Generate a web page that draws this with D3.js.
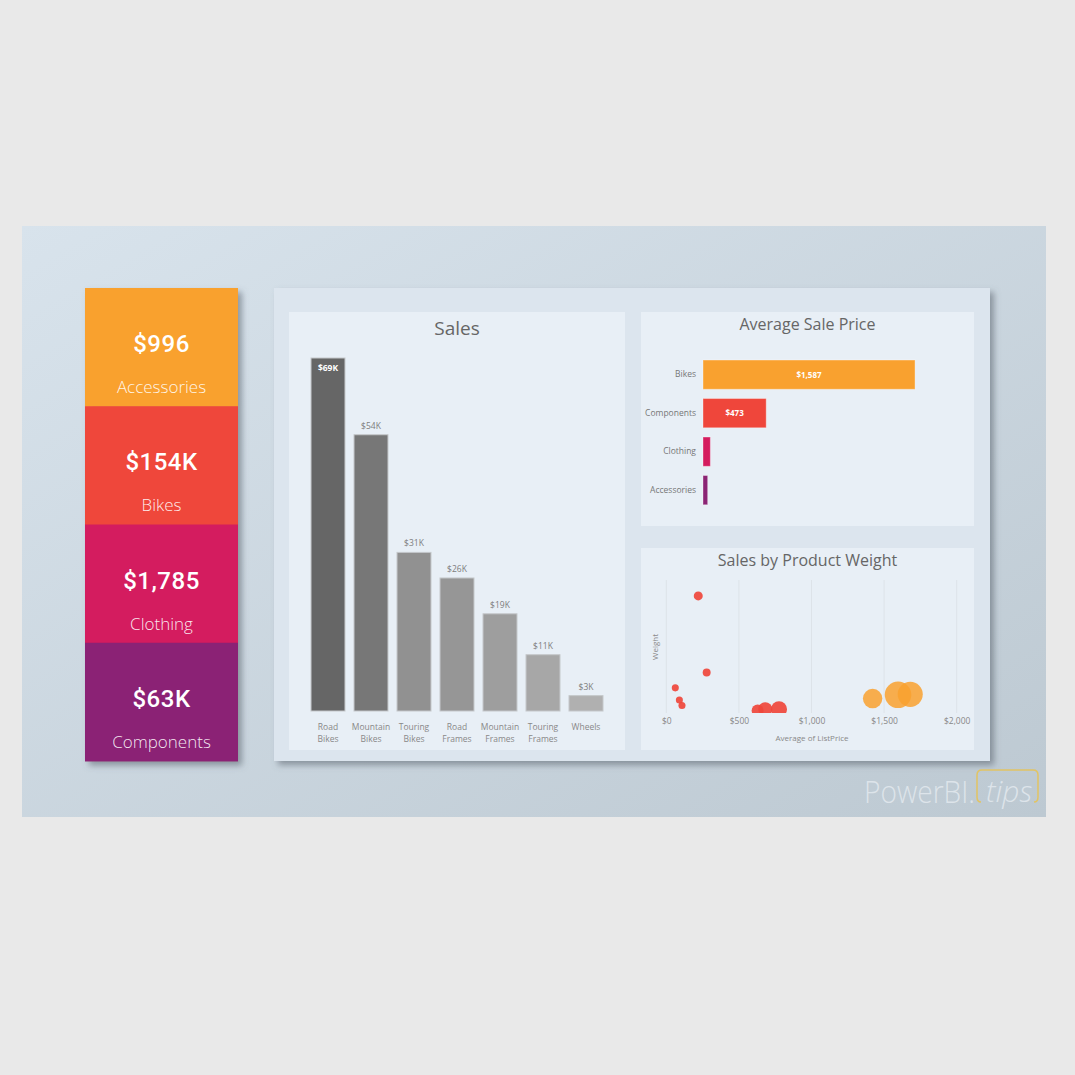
<!DOCTYPE html>
<html>
<head>
<meta charset="utf-8">
<script src="https://cdn.jsdelivr.net/npm/d3@7"></script>
<style>
  html, body { margin: 0; padding: 0; background: #e9e9e9; }
  svg { display: block; }
  text { font-family: "Open Sans", "Noto Sans", sans-serif; }
</style>
</head>
<body>
<div id="chart"></div>
<script>
// KPI cards
var kpiValues = ["$996", "$154K", "$1,785", "$63K"];
var kpiLabels = ["Accessories", "Bikes", "Clothing", "Components"];

// Sales by subcategory
var salesCategories = ["Road Bikes", "Mountain Bikes", "Touring Bikes", "Road Frames", "Mountain Frames", "Touring Frames", "Wheels"];
var salesValues = [69000, 54000, 31000, 26000, 19000, 11000, 3000];

// Average sale price
var priceCategories = ["Bikes", "Components", "Clothing", "Accessories"];
var priceValues = [1587, 473, 55, 35];

// Sales by product weight (scatter)
var weightPrice = [220, 278, 62, 90, 108, 629, 682, 776, 1421, 1596, 1680];
var weightValues = [25.0, 8.5, 5.2, 2.6, 1.4, 0.3, 0.6, 0.6, 2.9, 3.7, 3.8];
var weightSales = [3.1, 2.4, 1.9, 1.9, 1.9, 5.5, 7.5, 9.8, 14.4, 27, 24];
var weightCategory = ["Components", "Components", "Components", "Components", "Components", "Components", "Components", "Components", "Bikes", "Bikes", "Bikes"];
var priceTicks = [0, 500, 1000, 1500, 2000];

var width = 1075
var height = 1075

var svg = d3.select("#chart")
  .append("svg")
    .attr("width", width)
    .attr("height", height)

var defs = svg.append("defs")

// slide background gradient
var grad = defs.append("linearGradient")
    .attr("id", "slideBg")
    .attr("x1", "0%").attr("y1", "0%")
    .attr("x2", "100%").attr("y2", "100%")
grad.append("stop").attr("offset", "0%").attr("stop-color", "#d8e3ec")
grad.append("stop").attr("offset", "100%").attr("stop-color", "#bdc9d2")

// drop shadow
var shadow = defs.append("filter")
    .attr("id", "shadow")
    .attr("x", "-10%").attr("y", "-10%")
    .attr("width", "125%").attr("height", "125%")
shadow.append("feDropShadow")
    .attr("dx", 4).attr("dy", 4)
    .attr("stdDeviation", 3)
    .attr("flood-color", "#55606a")
    .attr("flood-opacity", 0.55)

var catColor = d3.scaleOrdinal()
    .domain(["Accessories", "Bikes", "Clothing", "Components"])
    .range(["#f9a12f", "#ef463b", "#d41c5e", "#8b2474"])

// priced bars use a different ordering of the palette
var priceColor = d3.scaleOrdinal()
    .domain(priceCategories)
    .range(["#f9a12f", "#ef463b", "#d41c5e", "#8b2474"])

// slide
svg.append("rect")
    .attr("x", 22).attr("y", 226)
    .attr("width", 1024).attr("height", 591)
    .attr("fill", "url(#slideBg)")

// ---------- KPI cards ----------
var cardY = d3.scaleBand()
    .domain(kpiLabels)
    .range([288, 761])

var cards = svg.append("g").attr("filter", "url(#shadow)")
cards.selectAll("rect")
  .data(kpiLabels)
  .enter()
  .append("rect")
    .attr("x", 85)
    .attr("y", function(d){ return cardY(d) })
    .attr("width", 153)
    .attr("height", cardY.bandwidth() + 0.5)
    .attr("fill", function(d){ return catColor(d) })

var cardText = svg.append("g")
cardText.selectAll(".kpi-value")
  .data(kpiLabels)
  .enter()
  .append("text")
    .attr("class", "kpi-value")
    .attr("x", 161.5)
    .attr("y", function(d){ return cardY(d) + 64 })
    .attr("text-anchor", "middle")
    .attr("fill", "#fff")
    .style("font-family", "Roboto, sans-serif")
    .style("font-weight", 500)
    .style("font-size", "24px")
    .style("letter-spacing", "0.5px")
    .text(function(d, i){ return kpiValues[i] })

cardText.selectAll(".kpi-label")
  .data(kpiLabels)
  .enter()
  .append("text")
    .attr("class", "kpi-label")
    .attr("x", 161.5)
    .attr("y", function(d){ return cardY(d) + 105 })
    .attr("text-anchor", "middle")
    .attr("fill", "#fff")
    .attr("fill-opacity", 0.9)
    .style("font-weight", 300)
    .style("font-size", "17px")
    .text(function(d){ return d })

// ---------- main panel ----------
svg.append("rect")
    .attr("x", 274).attr("y", 288)
    .attr("width", 716).attr("height", 473)
    .attr("fill", "#dce5ee")
    .attr("filter", "url(#shadow)")

function panel(x, y, w, h, title, size, ty) {
  svg.append("rect")
      .attr("x", x).attr("y", y)
      .attr("width", w).attr("height", h)
      .attr("fill", "#e8eff6")
  svg.append("text")
      .attr("x", x + w / 2)
      .attr("y", ty)
      .attr("text-anchor", "middle")
      .attr("fill", "#666")
      .style("font-size", size + "px")
      .text(title)
}

panel(289, 312, 336, 438, "Sales", 19, 335)
panel(641, 312, 333, 214, "Average Sale Price", 16, 330)
panel(641, 548, 333, 202, "Sales by Product Weight", 16, 566)

// ---------- Sales column chart ----------
var x = d3.scaleBand()
    .domain(salesCategories)
    .range([306.5, 607.5])
    .paddingInner(0.21)
    .paddingOuter(0.105)

var y = d3.scaleLinear()
    .domain([0, 69000])
    .range([711, 358])

var grey = d3.scaleLinear()
    .domain([3000, 69000])
    .range(["#b0b0b0", "#666666"])

var sales = svg.append("g")
sales.selectAll("rect")
  .data(salesCategories)
  .enter()
  .append("rect")
    .attr("x", function(d){ return x(d) })
    .attr("y", function(d, i){ return y(salesValues[i]) })
    .attr("width", x.bandwidth())
    .attr("height", function(d, i){ return y(0) - y(salesValues[i]) })
    .attr("fill", function(d, i){ return grey(salesValues[i]) })
    .attr("stroke", "#c4c7ca")
    .attr("stroke-width", 1)

sales.selectAll(".lbl")
  .data(salesCategories)
  .enter()
  .append("text")
    .attr("class", "lbl")
    .attr("x", function(d){ return x(d) + x.bandwidth() / 2 })
    .attr("y", function(d, i){ return i == 0 ? y(salesValues[i]) + 13 : y(salesValues[i]) - 6 })
    .attr("text-anchor", "middle")
    .attr("fill", function(d, i){ return i == 0 ? "#fff" : "#7d7d7d" })
    .style("font-size", "8.5px")
    .style("font-weight", function(d, i){ return i == 0 ? 700 : 400 })
    .text(function(d, i){ return "$" + Math.round(salesValues[i] / 1000) + "K" })

// x axis labels on two lines
var xLab = sales.selectAll(".xlab")
  .data(salesCategories)
  .enter()
  .append("text")
    .attr("class", "xlab")
    .attr("text-anchor", "middle")
    .attr("fill", "#888")
    .style("font-size", "8.5px")
xLab.selectAll("tspan")
  .data(function(d){ return d.split(" ").map(function(w){ return {w: w, c: d} }) })
  .enter()
  .append("tspan")
    .attr("x", function(t){ return x(t.c) + x.bandwidth() / 2 })
    .attr("y", function(t, j){ return 730 + j * 12 })
    .text(function(t){ return t.w })

// ---------- Average Sale Price bars ----------
var px = d3.scaleLinear()
    .domain([0, 1800])
    .range([703, 943.5])

var py = d3.scaleBand()
    .domain(priceCategories)
    .range([355.4, 509.4])
    .paddingInner(0.24)
    .paddingOuter(0.12)

var price = svg.append("g")
price.selectAll("rect")
  .data(priceCategories)
  .enter()
  .append("rect")
    .attr("x", px(0))
    .attr("y", function(d){ return py(d) })
    .attr("width", function(d, i){ return px(priceValues[i]) - px(0) })
    .attr("height", py.bandwidth())
    .attr("fill", function(d, i){ return priceColor(d) })
    .attr("stroke", "#ffffff")
    .attr("stroke-opacity", 0.35)
    .attr("stroke-width", 1)

var pyAxis = price.append("g")
    .attr("transform", "translate(" + (px(0) - 3) + ",0)")
    .call(d3.axisLeft(py).tickSize(0).tickPadding(4))
pyAxis.select(".domain").remove()
pyAxis.selectAll("text")
    .attr("fill", "#777")
    .style("font-family", "'Open Sans', sans-serif")
    .style("font-size", "8.5px")

price.selectAll(".val")
  .data(priceCategories.filter(function(d, i){ return priceValues[i] > 200 }))
  .enter()
  .append("text")
    .attr("class", "val")
    .attr("x", function(d){ return (px(0) + px(priceValues[priceCategories.indexOf(d)])) / 2 })
    .attr("y", function(d){ return py(d) + py.bandwidth() / 2 + 3 })
    .attr("text-anchor", "middle")
    .attr("fill", "#fff")
    .style("font-size", "8px")
    .style("font-weight", 700)
    .text(function(d){ return "$" + d3.format(",")(priceValues[priceCategories.indexOf(d)]) })

// ---------- Sales by Product Weight scatter ----------
var sx = d3.scaleLinear()
    .domain([0, 2000])
    .range([666.3, 956.7])

var sy = d3.scaleLinear()
    .domain([0, 28])
    .range([712, 582])

var sr = d3.scaleSqrt()
    .domain([0, 30])
    .range([0, 14])

defs.append("clipPath")
    .attr("id", "plotClip")
  .append("rect")
    .attr("x", 645).attr("y", 575)
    .attr("width", 325).attr("height", 138)

var scatter = svg.append("g")

scatter.selectAll(".grid")
  .data(priceTicks)
  .enter()
  .append("line")
    .attr("class", "grid")
    .attr("x1", function(d){ return sx(d) })
    .attr("x2", function(d){ return sx(d) })
    .attr("y1", 580)
    .attr("y2", 713)
    .attr("stroke", "#dde3e9")
    .attr("stroke-width", 1)

scatter.append("g")
    .attr("clip-path", "url(#plotClip)")
  .selectAll("circle")
  .data(weightPrice)
  .enter()
  .append("circle")
    .attr("cx", function(d){ return sx(d) })
    .attr("cy", function(d, i){ return sy(weightValues[i]) })
    .attr("r", function(d, i){ return sr(weightSales[i]) })
    .attr("fill", function(d, i){ return weightCategory[i] == "Bikes" ? "#f9a12f" : "#ef463b" })
    .attr("fill-opacity", function(d, i){ return weightCategory[i] == "Bikes" ? 0.85 : 0.92 })

var sxAxis = scatter.append("g")
    .attr("transform", "translate(0,713)")
    .call(d3.axisBottom(sx).tickValues(priceTicks).tickSize(0).tickPadding(5)
      .tickFormat(function(d){ return "$" + d3.format(",")(d) }))
sxAxis.select(".domain").remove()
sxAxis.selectAll("text")
    .attr("fill", "#888")
    .style("font-family", "'Open Sans', sans-serif")
    .style("font-size", "8.5px")

scatter.append("text")
    .attr("x", 812)
    .attr("y", 741)
    .attr("text-anchor", "middle")
    .attr("fill", "#888")
    .style("font-size", "8px")
    .text("Average of ListPrice")

scatter.append("text")
    .attr("transform", "translate(658,647) rotate(-90)")
    .attr("text-anchor", "middle")
    .attr("fill", "#888")
    .style("font-size", "8px")
    .text("Weight")

// ---------- PowerBI.tips watermark ----------
svg.append("text")
    .attr("x", 864)
    .attr("y", 803)
    .attr("fill", "#dde4ea")
    .attr("textLength", 111)
    .attr("lengthAdjust", "spacingAndGlyphs")
    .style("font-size", "31px")
    .style("font-weight", 300)
    .text("PowerBI.")

svg.append("path")
    .attr("d", "M981,802 Q977,802 977,797 L977,775 Q977,770 982,770 L1033,770 Q1038,770 1038,775 L1038,797 Q1038,802 1034,802")
    .attr("fill", "none")
    .attr("stroke", "#e2c463")
    .attr("stroke-width", 1.5)

svg.append("text")
    .attr("x", 986)
    .attr("y", 802)
    .attr("fill", "#dde4ea")
    .style("font-size", "30px")
    .style("font-style", "italic")
    .style("font-weight", 300)
    .text("tips")
</script>
</body>
</html>
